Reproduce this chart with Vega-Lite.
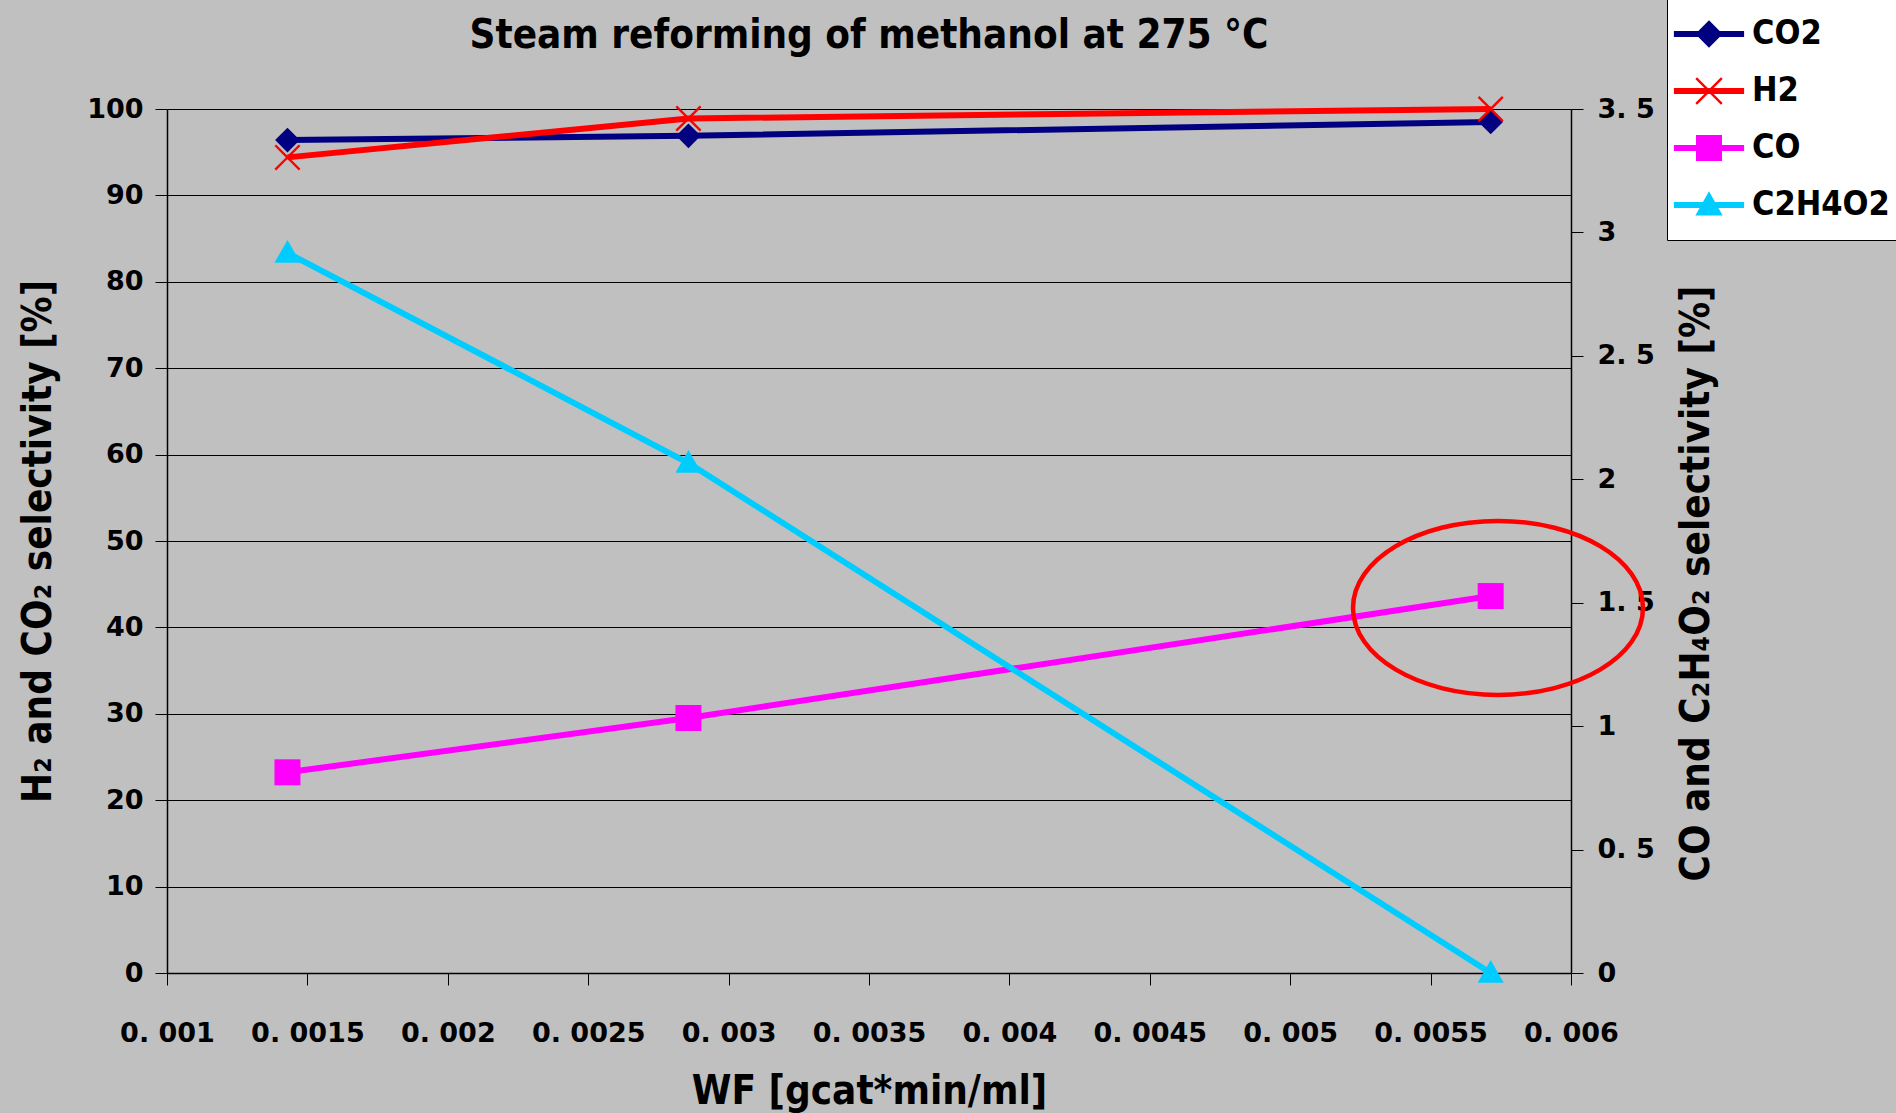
{
  "$schema": "https://vega.github.io/schema/vega-lite/v6.json",
  "width": 1404,
  "height": 864,
  "autosize": {"type": "none"},
  "padding": {"left": 167, "top": 109, "right": 325, "bottom": 140},
  "background": "#c0c0c0",
  "title": {
    "text": "Steam reforming of methanol at 275 °C",
    "font": "DejaVu Sans Condensed, DejaVu Sans, sans-serif",
    "fontSize": 40,
    "fontWeight": "bold",
    "color": "#000000",
    "anchor": "middle",
    "frame": "group",
    "offset": -57
  },
  "data": {
    "values": [
      {"wf": 0.001429, "species": "CO2", "sel": 96.4},
      {"wf": 0.002857, "species": "CO2", "sel": 96.9},
      {"wf": 0.005714, "species": "CO2", "sel": 98.5},
      {"wf": 0.001429, "species": "H2", "sel": 94.4},
      {"wf": 0.002857, "species": "H2", "sel": 98.9},
      {"wf": 0.005714, "species": "H2", "sel": 100.0},
      {"wf": 0.001429, "species": "CO", "sel": 0.813},
      {"wf": 0.002857, "species": "CO", "sel": 1.033},
      {"wf": 0.005714, "species": "CO", "sel": 1.527},
      {"wf": 0.001429, "species": "C2H4O2", "sel": 2.917},
      {"wf": 0.002857, "species": "C2H4O2", "sel": 2.066},
      {"wf": 0.005714, "species": "C2H4O2", "sel": 0.0}
    ]
  },
  "encoding": {
    "x": {
      "field": "wf",
      "type": "quantitative",
      "scale": {"domain": [0.001, 0.006], "nice": false, "zero": false},
      "axis": {
        "title": "WF [gcat*min/ml]",
        "values": [0.001, 0.0015, 0.002, 0.0025, 0.003, 0.0035, 0.004, 0.0045, 0.005, 0.0055, 0.006],
        "labelExpr": "replace(format(datum.value, '.4~f'), '.', '. ')",
        "labelOverlap": false,
        "labelFlush": false,
        "labelPadding": 35,
        "titlePadding": 25,
        "grid": false
      }
    },
    "color": {
      "field": "species",
      "type": "nominal",
      "scale": {
        "domain": ["CO2", "H2", "CO", "C2H4O2"],
        "range": ["#000080", "#ff0000", "#ff00ff", "#00ccff"]
      },
      "legend": {
        "title": null,
        "orient": "none",
        "legendX": 1500,
        "legendY": -110,
        "fillColor": "#ffffff",
        "strokeColor": "#000000",
        "padding": 18,
        "rowPadding": 23,
        "symbolSize": 676,
        "symbolOffset": 7,
        "symbolOpacity": 1,
        "symbolStrokeWidth": 0,
        "labelOffset": 26,
        "labelFont": "DejaVu Sans Condensed, DejaVu Sans, sans-serif",
        "labelFontSize": 34,
        "labelFontWeight": "bold",
        "labelColor": "#000000",
        "labelLimit": 400
      }
    }
  },
  "layer": [
    {
      "encoding": {
        "y": {
          "field": "sel",
          "type": "quantitative",
          "scale": {"domain": [0, 100], "nice": false, "zero": true},
          "axis": {
            "orient": "left",
            "title": "H₂ and CO₂ selectivity [%]",
            "values": [0, 10, 20, 30, 40, 50, 60, 70, 80, 90, 100],
            "grid": true,
            "gridColor": "#000000",
            "gridWidth": 1,
            "labelFlush": false,
            "labelPadding": 12,
            "titlePadding": 28
          }
        }
      },
      "layer": [
        {
          "transform": [{"filter": "datum.species === 'CO2' || datum.species === 'H2'"}],
          "mark": {"type": "line", "strokeWidth": 6}
        },
        {
          "transform": [{"filter": "datum.species === 'CO2'"}],
          "mark": {"type": "point", "filled": true, "size": 676, "opacity": 1, "strokeWidth": 0, "shape": "M0,-0.95L0.95,0L0,0.95L-0.95,0Z"}
        },
        {
          "transform": [{"filter": "datum.species === 'H2'"}],
          "mark": {"type": "point", "filled": true, "size": 676, "opacity": 1, "strokeWidth": 0, "shape": "M-1,-0.87L-0.87,-1L0,-0.13L0.87,-1L1,-0.87L0.13,0L1,0.87L0.87,1L0,0.13L-0.87,1L-1,0.87L-0.13,0Z"}
        },
        {
          "mark": {"type": "point", "filled": true, "size": 676, "opacity": 0, "strokeWidth": 0},
          "encoding": {
            "shape": {
              "field": "species",
              "type": "nominal",
              "scale": {
                "domain": ["CO2", "H2", "CO", "C2H4O2"],
                "range": [
                  "M-2.7,-0.23L2.7,-0.23L2.7,0.23L-2.7,0.23Z M0,-1.05L1.05,0L0,1.05L-1.05,0Z",
                  "M-2.7,-0.23L2.7,-0.23L2.7,0.23L-2.7,0.23Z M-1.05,-0.92L-0.92,-1.05L0,-0.13L0.92,-1.05L1.05,-0.92L0.13,0L1.05,0.92L0.92,1.05L0,0.13L-0.92,1.05L-1.05,0.92L-0.13,0Z",
                  "M-2.7,-0.23L2.7,-0.23L2.7,0.23L-2.7,0.23Z M-1,-1L1,-1L1,1L-1,1Z",
                  "M-2.7,-0.23L2.7,-0.23L2.7,0.23L-2.7,0.23Z M0,-1.05L1.05,0.8L-1.05,0.8Z"
                ]
              },
              "legend": {
                "title": null,
                "orient": "none",
                "legendX": 1500,
                "legendY": -110,
                "fillColor": "#ffffff",
                "strokeColor": "#000000",
                "padding": 18,
                "rowPadding": 23,
                "symbolSize": 676,
                "symbolOffset": 7,
                "symbolOpacity": 1,
                "symbolStrokeWidth": 0,
                "labelOffset": 26,
                "labelFont": "DejaVu Sans Condensed, DejaVu Sans, sans-serif",
                "labelFontSize": 34,
                "labelFontWeight": "bold",
                "labelColor": "#000000",
                "labelLimit": 400
              }
            }
          }
        }
      ]
    },
    {
      "transform": [{"filter": "datum.species === 'CO' || datum.species === 'C2H4O2'"}],
      "encoding": {
        "y": {
          "field": "sel",
          "type": "quantitative",
          "scale": {"domain": [0, 3.5], "nice": false, "zero": true},
          "axis": {
            "orient": "right",
            "title": "CO and C₂H₄O₂ selectivity [%]",
            "values": [0, 0.5, 1, 1.5, 2, 2.5, 3, 3.5],
            "labelExpr": "replace(format(datum.value, '.1~f'), '.', '. ')",
            "labelFlush": false,
            "grid": false,
            "labelPadding": 14,
            "titleAngle": 270,
            "titleBaseline": "top",
            "titleY": 474,
            "titlePadding": 22
          }
        }
      },
      "layer": [
        {
          "mark": {"type": "line", "strokeWidth": 6}
        },
        {
          "transform": [{"filter": "datum.species === 'CO'"}],
          "mark": {"type": "point", "filled": true, "size": 676, "opacity": 1, "strokeWidth": 0, "shape": "M-1,-1L1,-1L1,1L-1,1Z"}
        },
        {
          "transform": [{"filter": "datum.species === 'C2H4O2'"}],
          "mark": {"type": "point", "filled": true, "size": 676, "opacity": 1, "strokeWidth": 0, "shape": "M0,-1L1,0.75L-1,0.75Z"}
        },
        {
          "data": {"values": [{"wf": 0.00574, "sel": 1.479}]},
          "transform": [],
          "mark": {
            "type": "point",
            "filled": false,
            "size": 84100,
            "shape": "M-1,0A1,0.6,0,1,0,1,0A1,0.6,0,1,0,-1,0Z",
            "stroke": "#ff0000",
            "strokeWidth": 4.5,
            "opacity": 1
          },
          "encoding": {"color": {"value": "#ff0000"}}
        }
      ]
    }
  ],
  "resolve": {"scale": {"y": "independent"}},
  "config": {
    "view": {"stroke": null},
    "axis": {
      "domainColor": "#000000",
      "domainWidth": 1.5,
      "tickColor": "#000000",
      "tickWidth": 1,
      "tickSize": 12,
      "labelFont": "DejaVu Sans",
      "labelFontWeight": "bold",
      "labelFontSize": 27,
      "labelColor": "#000000",
      "titleFont": "DejaVu Sans Condensed, DejaVu Sans, sans-serif",
      "titleFontWeight": "bold",
      "titleFontSize": 40,
      "titleColor": "#000000"
    }
  }
}
